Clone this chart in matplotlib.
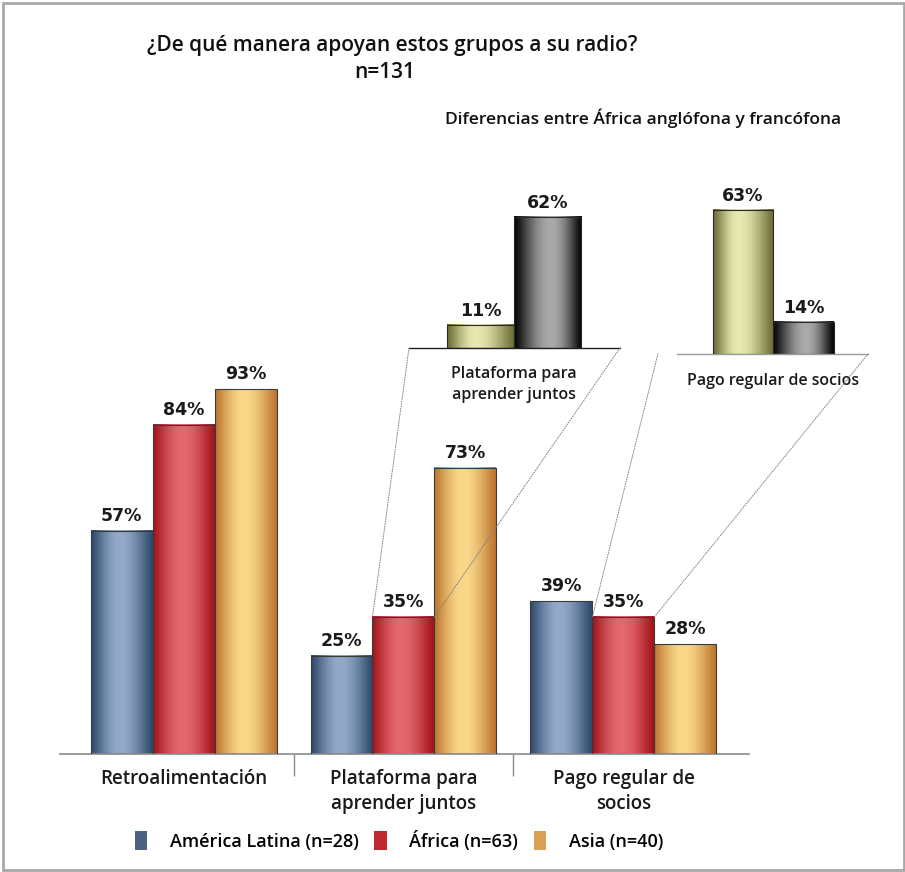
import numpy as np
import matplotlib
matplotlib.use("Agg")
import matplotlib.pyplot as plt
from matplotlib.patches import Patch, Rectangle, ConnectionPatch
from matplotlib.colors import to_rgb

plt.rcParams['font.family'] = ['Open Sans', 'DejaVu Sans']

# data
categories = ['Retroalimentación', 'Plataforma para\naprender juntos', 'Pago regular de\nsocios']
series = ['América Latina (n=28)', 'África (n=63)', 'Asia (n=40)']
latam = [57, 25, 39]
africa = [84, 35, 35]
asia = [93, 73, 28]

inset1_label = 'Plataforma para\naprender juntos'
inset1_vals = [11, 62]
inset2_label = 'Pago regular de socios'
inset2_vals = [63, 14]

# gradient colours (dark edge, light centre)
blue = ('#2f4a6c', '#92a9c8')
red = ('#a3151b', '#e4686f')
orange = ('#bd772f', '#fad88a')
green = ('#6c6c36', '#e6e9b2')
black = ('#050505', '#aaaaaa')

W, H = 905, 872


def fx(px):
    return px / W


def fy(py):
    return 1 - py / H


def shade(ax, bars, cols, peak=0.47):
    dark = np.array(to_rgb(cols[0]))
    light = np.array(to_rgb(cols[1]))
    t = np.linspace(0, 1, 80)
    f = np.where(t < peak, t / peak, (1 - t) / (1 - peak))
    f = np.sin(f * np.pi / 2) ** 1.2
    img = (dark + (light - dark) * f[:, None])[None, :, :]
    for b in bars:
        x0, y0 = b.get_x(), b.get_y()
        w, h = b.get_width(), b.get_height()
        ax.imshow(img, extent=[x0, x0 + w, y0, y0 + h], aspect='auto',
                  interpolation='bilinear', zorder=2)


def value_labels(ax, bars, vals, off):
    for b, v in zip(bars, vals):
        ax.annotate(f'{v}%', (b.get_x() + b.get_width() / 2, b.get_height()),
                    xytext=(0, off), textcoords='offset pixels',
                    ha='center', va='center', fontsize=12.5, fontweight='bold',
                    family='DejaVu Sans', color='#1a1a1a', annotation_clip=False)


fig = plt.figure(figsize=(W / 100, H / 100), dpi=100)

# main chart
ax = fig.add_axes([fx(60), fy(754), fx(749) - fx(60), 392 / H])
x = np.arange(len(categories))
bw = 62 / 220
groups = []
for i, (vals, cols) in enumerate([(latam, blue), (africa, red), (asia, orange)]):
    bars = ax.bar(x + (i - 1) * bw, vals, bw, facecolor='none',
                  edgecolor='#3a3a3a', linewidth=0.8, zorder=3)
    shade(ax, bars, cols)
    value_labels(ax, bars, vals, 15)
    groups.append(bars)

ax.set_xlim(-0.5614, 2.5705)
ax.set_ylim(0, 100)
for s in ['top', 'right', 'left']:
    ax.spines[s].set_visible(False)
ax.spines['bottom'].set_color('#8a8a8a')
ax.spines['bottom'].set_linewidth(1.2)
ax.set_yticks([])
ax.set_xticks(x)
ax.set_xticklabels(categories, fontsize=13.5, fontweight='semibold', color='#1a1a1a',
                   linespacing=1.3)
ax.tick_params(axis='x', length=0, pad=11)
ax.set_xticks([0.5, 1.5], minor=True)
ax.tick_params(axis='x', which='minor', length=16, color='#8a8a8a', width=1)

# insets
def make_inset(rect, vals, label, xlim, base_col, lab_pad):
    a = fig.add_axes(rect)
    xi = np.arange(2)
    bars = a.bar(xi, vals, 1.0, facecolor='none', edgecolor='#2a2a2a',
                 linewidth=0.8, zorder=3)
    shade(a, bars[:1], green, peak=0.42)
    shade(a, bars[1:], black, peak=0.55)
    value_labels(a, bars, vals, 14)
    a.set_xlim(*xlim)
    a.set_ylim(0, 100)
    for s in ['top', 'right', 'left']:
        a.spines[s].set_visible(False)
    a.spines['bottom'].set_color(base_col)
    a.spines['bottom'].set_linewidth(1.0)
    a.set_yticks([])
    a.set_xticks([0.5])
    a.set_xticklabels([label], fontsize=11.5, fontweight='semibold', color='#1a1a1a',
                      linespacing=1.45)
    a.tick_params(axis='x', length=0, pad=lab_pad)
    a.patch.set_alpha(0)
    return a

ax1 = make_inset([fx(409), fy(348), fx(620) - fx(409), 212 / H], inset1_vals,
                 inset1_label, (-1.067, 2.08), '#202020', 13)
ax2 = make_inset([fx(677), fy(354), fx(868) - fx(677), 229 / H], inset2_vals,
                 inset2_label, (-1.09, 2.07), '#9a9a9a', 14)

# dotted connectors to the Africa bars
for a, i, xa in [(ax1, 1, (0, 1)), (ax2, 2, (-0.1, 1))]:
    b = groups[1][i]
    for k, xb in enumerate([b.get_x(), b.get_x() + b.get_width()]):
        con = ConnectionPatch(xyA=(xa[k], 0), coordsA=a.transAxes,
                              xyB=(xb, b.get_height()), coordsB=ax.transData,
                              linestyle=(0, (1, 1.5)), color='#808080', linewidth=0.7)
        fig.add_artist(con)

# titles
fig.text(fx(392), fy(45), '¿De qué manera apoyan estos grupos a su radio?',
         ha='center', va='center', fontsize=15, fontweight='semibold', color='#111111')
fig.text(fx(385), fy(72), 'n=131', ha='center', va='center', fontsize=15,
         fontweight='semibold', color='#111111')
fig.text(fx(643), fy(118), 'Diferencias entre África anglófona y francófona',
         ha='center', va='center', fontsize=12.5, fontweight='semibold', color='#111111')

# legend
handles = [Patch(facecolor=c, edgecolor='none') for c in ('#4a6284', '#c0282f', '#dba055')]
fig.legend(handles, series, loc='center', bbox_to_anchor=(fx(399), fy(841)), ncol=3,
           frameon=False, handlelength=0.7, handleheight=1.25,
           handletextpad=1.25, columnspacing=0.85,
           prop={'weight': 'semibold', 'size': 13})

# outer border
fig.add_artist(Rectangle((fx(3), fy(870)), fx(904) - fx(3), fy(3) - fy(870),
                         transform=fig.transFigure, fill=False,
                         edgecolor='#a8a8a8', linewidth=2))

fig.savefig('out.png', dpi=100)
